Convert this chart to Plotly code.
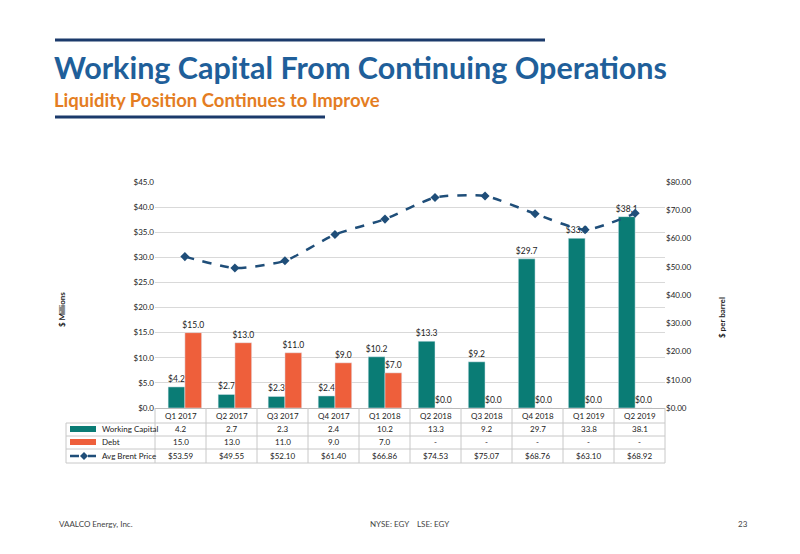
import plotly.graph_objects as go

categories = ["Q1 2017","Q2 2017","Q3 2017","Q4 2017","Q1 2018","Q2 2018","Q3 2018","Q4 2018","Q1 2019","Q2 2019"]
working_capital = [4.2, 2.7, 2.3, 2.4, 10.2, 13.3, 9.2, 29.7, 33.8, 38.1]
debt = [15.0, 13.0, 11.0, 9.0, 7.0, 0, 0, 0, 0, 0]
debt_table = ["15.0","13.0","11.0","9.0","7.0","-","-","-","-","-"]
brent = [53.59, 49.55, 52.10, 61.40, 66.86, 74.53, 75.07, 68.76, 63.10, 68.92]

TEAL = "#0a7c75"; ORANGE = "#ee5f3b"; NAVY = "#1f4e79"
W, H = 800, 554
OFF = 8  # page body margin
L, R, T, B = 155, 665, 182, 408
def px(x): return (x - OFF) / W
def py(y): return 1 - (y - OFF) / H

fig = go.Figure()
fig.add_bar(x=categories, y=working_capital, marker_color=TEAL, name="Working Capital",
            text=[f"${v:.1f}" for v in working_capital], textposition="outside", constraintext="none",
            textfont=dict(size=8.5, color="#222"), cliponaxis=False)
fig.add_bar(x=categories, y=debt, marker_color=ORANGE, name="Debt",
            text=[f"${v:.1f}" for v in debt], textposition="outside", constraintext="none",
            textfont=dict(size=8.5, color="#222"), cliponaxis=False)
fig.add_scatter(x=categories, y=brent, yaxis="y2", mode="lines+markers", name="Avg Brent Price",
                line=dict(color=NAVY, width=2.5, dash="dash", shape="spline", smoothing=0.6),
                marker=dict(symbol="diamond", size=7, color=NAVY))

font = dict(family="Lato, Liberation Sans, sans-serif", size=8, color="#222")
fig.update_layout(
    width=W, height=H, margin=dict(l=0, r=0, t=0, b=0, autoexpand=False),
    paper_bgcolor="white", plot_bgcolor="white", showlegend=False,
    barmode="group", bargap=0.33, bargroupgap=0.0, font=font,
    xaxis=dict(domain=[px(L), px(R)], showticklabels=False, showline=True, linecolor="#bbb", ticks="",
               automargin=False),
    yaxis=dict(domain=[py(B), py(T)], range=[0, 45], dtick=5, tickformat="$.1f", automargin=False,
               gridcolor="#d9d9d9", zeroline=False, tickfont=dict(size=8)),
    yaxis2=dict(overlaying="y", side="right", range=[0, 80], dtick=10, tickformat="$.2f", automargin=False,
                showgrid=False, zeroline=False, tickfont=dict(size=8)),
)

shapes = []
ann = []
def A(text, x, y, xanchor="center", **kw):
    d = dict(text=text, x=px(x), y=py(y), xref="paper", yref="paper", xanchor=xanchor, yanchor="middle",
             showarrow=False)
    d.update(kw)
    ann.append(d)

shapes.append(dict(type="line", xref="paper", yref="paper", x0=px(55), x1=px(545), y0=py(40), y1=py(40),
                   line=dict(color="#1b3a6b", width=3)))
shapes.append(dict(type="line", xref="paper", yref="paper", x0=px(55), x1=px(325), y0=py(117), y1=py(117),
                   line=dict(color="#1b3a6b", width=3)))
A("<b>Working Capital From Continuing Operations</b>", 52, 67, "left",
  font=dict(size=30.5, color="#1f5f9a", family="Lato, Liberation Sans"))
A("<b>Liquidity Position Continues to Improve</b>", 52, 100, "left",
  font=dict(size=18.5, color="#e47d22", family="Lato, Liberation Sans"))
A("<b>$ Millions</b>", 62, 310, textangle=-90, font=dict(size=8))
A("<b>$ per barrel</b>", 722, 318, textangle=-90, font=dict(size=8))

rows_y = [416, 429, 442, 456]
borders = [423, 436, 449, 463]
gc = "#c8c8c8"
for yb in borders:
    shapes.append(dict(type="line", xref="paper", yref="paper", x0=px(66), x1=px(R),
                       y0=py(yb), y1=py(yb), line=dict(color=gc, width=1)))
shapes.append(dict(type="line", xref="paper", yref="paper", x0=px(66), x1=px(66), y0=py(423), y1=py(463),
                   line=dict(color=gc, width=1)))
n = len(categories)
cw = (R - L) / n
for i in range(n + 1):
    x = L + i * cw
    shapes.append(dict(type="line", xref="paper", yref="paper", x0=px(x), x1=px(x), y0=py(408), y1=py(463),
                       line=dict(color=gc, width=1)))
for i, c in enumerate(categories):
    xc = L + (i + 0.5) * cw
    vals = [c, f"{working_capital[i]:.1f}", debt_table[i], f"${brent[i]:.2f}"]
    for v, yy in zip(vals, rows_y):
        A(v, xc, yy, font=dict(size=8))
labels = ["Working Capital", "Debt", "Avg Brent Price"]
for lab, yy in zip(labels, rows_y[1:]):
    A(lab, 100, yy, "left", font=dict(size=8))
shapes.append(dict(type="rect", xref="paper", yref="paper", x0=px(70), x1=px(96), y0=py(426), y1=py(432),
                   fillcolor=TEAL, line=dict(width=0)))
shapes.append(dict(type="rect", xref="paper", yref="paper", x0=px(70), x1=px(96), y0=py(439), y1=py(445),
                   fillcolor=ORANGE, line=dict(width=0)))
shapes.append(dict(type="line", xref="paper", yref="paper", x0=px(70), x1=px(96), y0=py(456), y1=py(456),
                   line=dict(color=NAVY, width=2.5, dash="dash")))
dx, dy = 4 / W, 4 / H
cx, cy = px(84), py(456)
shapes.append(dict(type="path", xref="paper", yref="paper",
                   path=f"M {cx-dx} {cy} L {cx} {cy+dy} L {cx+dx} {cy} L {cx} {cy-dy} Z",
                   fillcolor=NAVY, line=dict(width=0)))

A("VAALCO Energy, Inc.", 57, 524, "left", font=dict(size=8, color="#444"))
A("NYSE: EGY&nbsp;&nbsp;&nbsp;&nbsp;LSE: EGY", 410, 524, font=dict(size=8, color="#444"))
A("23", 750, 524, "right", font=dict(size=8, color="#444"))

fig.update_layout(shapes=shapes, annotations=ann)
fig.write_html("out.html")
